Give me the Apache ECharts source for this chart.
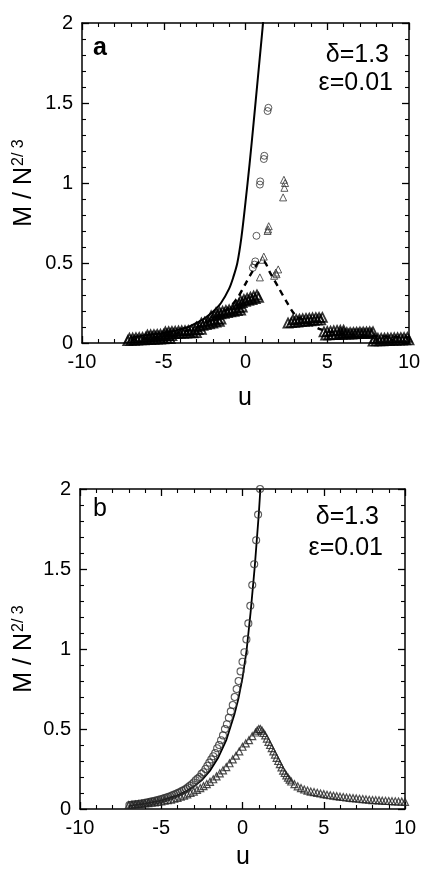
<!DOCTYPE html>
<html>
<head>
<meta charset="utf-8">
<script src="https://cdn.jsdelivr.net/npm/echarts@6/dist/echarts.min.js"></script>
<style>
  html, body { margin: 0; padding: 0; background: #fff; }
  #chart { width: 439px; height: 869px; }
</style>
</head>
<body>
<div id="chart"></div>
<script>
// ---- panel a ----
const solidA = [[-7.0,0.035],[-6.5,0.042],[-6.0,0.05],[-5.5,0.056],[-5.0,0.063],[-4.5,0.072],[-4.0,0.085],
  [-3.5,0.10],[-3.0,0.125],[-2.5,0.155],[-2.0,0.195],[-1.5,0.25],[-1.0,0.34],[-0.75,0.41],[-0.5,0.50],
  [-0.25,0.66],[0.0,0.88],[0.25,1.12],[0.5,1.38],[0.75,1.65],[1.0,1.92],[1.1,2.03]];
const dashedA = [[-7.0,0.02],[-6.0,0.03],[-5.0,0.045],[-4.0,0.065],[-3.0,0.095],[-2.5,0.12],[-2.0,0.15],
  [-1.5,0.185],[-1.0,0.22],[-0.5,0.28],[0.0,0.37],[0.5,0.46],[0.9,0.51],[1.1,0.51],[1.5,0.44],[2.0,0.35],
  [2.5,0.26],[3.0,0.18],[3.5,0.145],[4.0,0.115],[4.6,0.085],[5.5,0.063],[6.5,0.053],[8.0,0.043],[10.0,0.035]];
const circlesA = [[1.35,1.45],[1.4,1.47],[1.12,1.15],[1.15,1.17],[0.88,0.99],[0.9,1.01],[0.67,0.67],
  [0.6,0.51],[0.45,0.47],[0.55,0.49]];
const trianglesA = [[2.35,1.02],[2.42,1.0],[2.38,0.97],[2.3,0.91],[1.35,0.70],[1.42,0.73],[1.38,0.71],
  [1.12,0.54],[1.05,0.52],[0.88,0.41],[1.75,0.42],[1.85,0.44],[2.0,0.46],[1.9,0.43]];
// dense plateaus of triangles (finite-size steps)
const stepsA = [
  [-7.2,0.015],[-7.0,0.016],[-6.8,0.017],[-6.6,0.018],[-6.4,0.019],[-6.2,0.02],[-6.0,0.021],[-5.8,0.022],
  [-5.6,0.023],[-5.4,0.024],[-5.2,0.025],[-5.0,0.026],[-4.8,0.027],[-4.6,0.028],
  [-7.1,0.03],[-6.9,0.031],[-6.7,0.032],[-6.5,0.034],[-6.3,0.035],[-6.1,0.036],[-5.9,0.038],[-5.7,0.039],
  [-5.5,0.04],[-5.3,0.042],[-5.1,0.043],[-4.9,0.044],[-4.7,0.045],[-4.5,0.046],
  [-6.0,0.05],[-5.8,0.051],[-5.6,0.052],[-5.4,0.053],[-5.2,0.054],[-5.0,0.055],[-4.8,0.056],[-4.6,0.057],
  [-4.4,0.058],[-4.2,0.059],[-4.0,0.06],[-3.8,0.061],[-3.6,0.062],[-3.4,0.063],[-3.2,0.064],[-3.0,0.065],
  [-4.9,0.07],[-4.7,0.071],[-4.5,0.072],[-4.3,0.073],[-4.1,0.075],[-3.9,0.076],[-3.7,0.077],[-3.5,0.078],
  [-3.3,0.08],[-3.1,0.081],[-2.9,0.083],[-2.7,0.085],
  [-3.0,0.10],[-2.8,0.105],[-2.6,0.11],[-2.4,0.115],[-2.2,0.12],[-2.0,0.125],[-1.8,0.13],[-1.6,0.135],
  [-2.7,0.125],[-2.5,0.13],[-2.3,0.135],[-2.1,0.14],[-1.9,0.145],[-1.7,0.148],[-1.5,0.15],
  [-2.1,0.17],[-1.9,0.174],[-1.7,0.178],[-1.5,0.182],[-1.3,0.186],[-1.1,0.19],[-0.9,0.194],[-0.7,0.198],
  [-0.5,0.202],[-0.3,0.205],
  [-1.8,0.19],[-1.6,0.194],[-1.4,0.198],[-1.2,0.203],[-1.0,0.207],[-0.8,0.211],[-0.6,0.216],[-0.4,0.22],[-0.2,0.225],
  [-0.6,0.24],[-0.4,0.247],[-0.2,0.253],[0.0,0.26],[0.2,0.266],[0.4,0.272],[0.6,0.278],[0.8,0.285],
  [-0.3,0.265],[-0.1,0.272],[0.1,0.279],[0.3,0.286],[0.5,0.293],[0.7,0.30],
  [2.6,0.125],[2.8,0.127],[3.0,0.129],[3.2,0.131],[3.4,0.133],[3.6,0.135],[3.8,0.137],[4.0,0.139],
  [4.2,0.141],[4.4,0.143],[4.6,0.145],
  [2.9,0.145],[3.1,0.147],[3.3,0.149],[3.5,0.151],[3.7,0.153],[3.9,0.155],[4.1,0.157],[4.3,0.158],[4.5,0.159],[4.7,0.16],
  [4.8,0.07],[5.0,0.072],[5.2,0.074],[5.4,0.076],[5.6,0.078],[5.8,0.079],[6.0,0.08],
  [4.9,0.05],[5.1,0.051],[5.3,0.052],[5.5,0.052],[5.7,0.053],[5.9,0.054],[6.1,0.055],[6.3,0.055],[6.5,0.056],
  [6.7,0.057],[6.9,0.058],[7.1,0.058],[7.3,0.059],[7.5,0.06],[7.7,0.06],
  [5.8,0.063],[6.0,0.064],[6.2,0.065],[6.4,0.065],[6.6,0.066],[6.8,0.067],[7.0,0.068],[7.2,0.068],[7.4,0.069],
  [7.6,0.07],[7.8,0.07],
  [7.8,0.012],[8.0,0.013],[8.2,0.013],[8.4,0.014],[8.6,0.015],[8.8,0.015],[9.0,0.016],[9.2,0.017],[9.4,0.018],
  [9.6,0.018],[9.8,0.019],[10.0,0.02],
  [7.9,0.028],[8.1,0.029],[8.3,0.029],[8.5,0.03],[8.7,0.031],[8.9,0.031],[9.1,0.032],[9.3,0.033],[9.5,0.033],
  [9.7,0.034],[9.9,0.035]
];

// ---- panel b ----
const solidB = [[-7.0,0.02],[-6.0,0.033],[-5.0,0.052],[-4.0,0.085],[-3.5,0.11],[-3.0,0.14],[-2.5,0.18],
  [-2.0,0.24],[-1.5,0.32],[-1.0,0.43],[-0.5,0.59],[-0.25,0.69],[0.0,0.82],[0.25,0.99],[0.5,1.23],
  [0.75,1.51],[1.0,1.84],[1.1,2.0]];
const circlesB = [[1.08,2.0],[0.96,1.84],[0.84,1.68],[0.72,1.53],[0.60,1.40],[0.48,1.27],[0.36,1.16],
  [0.24,1.06],[0.12,0.98],[0.0,0.92],[-0.12,0.86],[-0.24,0.80],[-0.36,0.75],[-0.48,0.70],[-0.60,0.65],
  [-0.72,0.61],[-0.84,0.57],[-0.96,0.53],[-1.08,0.50],[-1.20,0.46],[-1.32,0.43],[-1.44,0.40],[-1.56,0.38],
  [-1.68,0.35],[-1.80,0.33],[-1.92,0.31],[-2.04,0.29],[-2.16,0.27],[-2.28,0.25],[-2.40,0.23],[-2.52,0.22],
  [-2.64,0.20],[-2.76,0.19],[-2.88,0.18],[-3.00,0.166],[-3.12,0.155],[-3.24,0.145],[-3.36,0.135],
  [-3.48,0.126],[-3.60,0.119],[-3.72,0.113],[-3.84,0.106],[-3.96,0.101],[-4.08,0.095],[-4.20,0.090],
  [-4.32,0.085],[-4.44,0.080],[-4.56,0.076],[-4.68,0.072],[-4.80,0.068],[-4.92,0.064],[-5.04,0.061],
  [-5.16,0.057],[-5.28,0.054],[-5.40,0.051],[-5.52,0.048],[-5.64,0.046],[-5.76,0.043],[-5.88,0.041],
  [-6.00,0.039],[-6.12,0.036],[-6.24,0.034],[-6.36,0.033],[-6.48,0.031],[-6.60,0.029],[-6.72,0.028],
  [-6.84,0.026],[-6.96,0.025]];
const trianglesB = [[-7.0,0.025],[-6.8,0.027],[-6.6,0.028],[-6.4,0.030],[-6.2,0.032],[-6.0,0.035],
  [-5.8,0.037],[-5.6,0.040],[-5.4,0.042],[-5.2,0.045],[-5.0,0.048],[-4.8,0.052],[-4.6,0.055],[-4.4,0.059],
  [-4.2,0.064],[-4.0,0.070],[-3.8,0.077],[-3.6,0.084],[-3.4,0.092],[-3.2,0.100],[-3.0,0.109],[-2.8,0.119],
  [-2.6,0.131],[-2.4,0.143],[-2.2,0.156],[-2.0,0.170],[-1.8,0.186],[-1.6,0.204],[-1.4,0.223],[-1.2,0.242],
  [-1.0,0.262],[-0.8,0.286],[-0.6,0.31],[-0.4,0.333],[-0.2,0.36],[0.0,0.389],[0.2,0.41],[0.4,0.43],
  [0.6,0.455],[0.8,0.478],[0.9,0.49],[1.0,0.50],[1.1,0.50],[1.2,0.49],[1.3,0.475],[1.4,0.46],[1.5,0.44],
  [1.6,0.42],[1.7,0.40],[1.8,0.38],[1.9,0.36],[2.0,0.34],[2.1,0.32],[2.2,0.30],[2.3,0.28],[2.4,0.26],
  [2.5,0.24],[2.6,0.225],[2.7,0.21],[2.8,0.196],[2.9,0.183],[3.0,0.172],[3.2,0.155],[3.4,0.142],
  [3.6,0.131],[3.8,0.122],[4.0,0.115],[4.2,0.109],[4.4,0.106],[4.6,0.101],[4.8,0.097],[5.0,0.093],
  [5.2,0.089],[5.4,0.086],[5.6,0.083],[5.8,0.080],[6.0,0.077],[6.2,0.075],[6.4,0.072],[6.6,0.070],
  [6.8,0.068],[7.0,0.066],[7.2,0.064],[7.4,0.062],[7.6,0.060],[7.8,0.058],[8.0,0.056],[8.2,0.055],
  [8.4,0.054],[8.6,0.052],[8.8,0.051],[9.0,0.050],[9.2,0.049],[9.4,0.048],[9.6,0.047],[9.8,0.046],[10.0,0.045]];

const xRange = [-10, 10];
const yRange = [0, 2];

const FONT = '"Liberation Sans", Arial, sans-serif';
const chart = echarts.init(document.getElementById('chart'));

function makeX(grid, top) {
  return {
    gridIndex: grid, type: 'value', position: top ? 'top' : 'bottom',
    min: xRange[0], max: xRange[1], interval: 5,
    axisLine: { show: true, onZero: false, lineStyle: { color: '#000', width: 1.5 } },
    axisTick: { show: true, inside: true, length: 7, lineStyle: { color: '#000', width: 1.3 } },
    minorTick: { show: true, splitNumber: 5, length: 4, lineStyle: { color: '#000', width: 1.1 } },
    axisLabel: { show: !top, color: '#000', fontSize: 20, fontFamily: FONT, margin: 9 },
    splitLine: { show: false }
  };
}
function makeY(grid, right) {
  return {
    gridIndex: grid, type: 'value', position: right ? 'right' : 'left',
    min: yRange[0], max: yRange[1], interval: 0.5,
    axisLine: { show: true, onZero: false, lineStyle: { color: '#000', width: 1.5 } },
    axisTick: { show: true, inside: true, length: 7, lineStyle: { color: '#000', width: 1.3 } },
    minorTick: { show: true, splitNumber: 5, length: 4, lineStyle: { color: '#000', width: 1.1 } },
    axisLabel: { show: !right, color: '#000', fontSize: 20, fontFamily: FONT, margin: 9 },
    splitLine: { show: false }
  };
}

const hollow = (c, w) => ({ color: 'rgba(0,0,0,0)', borderColor: c, borderWidth: w || 1 });

function txt(x, y, text, size, align, weight) {
  return {
    type: 'text', x: x, y: y, silent: true,
    style: {
      text: text, fill: '#000', font: (weight || '') + ' ' + size + 'px ' + FONT,
      align: align || 'center', verticalAlign: 'middle',
      textAlign: align || 'center', textVerticalAlign: 'middle'
    }
  };
}
const ylab = (x, y) => ({
  type: 'text', x: x, y: y, rotation: Math.PI / 2, silent: true,
  style: {
    text: '{m|M / N}{s|2/ 3}', align: 'center', verticalAlign: 'middle',
    textAlign: 'center', textVerticalAlign: 'middle',
    rich: {
      m: { fontSize: 25, fontFamily: FONT, fill: '#000', color: '#000' },
      s: { fontSize: 16, fontFamily: FONT, fill: '#000', color: '#000', verticalAlign: 'top', padding: [0, 0, 10, 1] }
    }
  }
});

chart.setOption({
  animation: false,
  grid: [
    { left: 82, top: 23, width: 327, height: 320 },
    { left: 80, top: 489, width: 325, height: 320 }
  ],
  xAxis: [makeX(0, false), makeX(0, true), makeX(1, false), makeX(1, true)],
  yAxis: [makeY(0, false), makeY(0, true), makeY(1, false), makeY(1, true)],
  series: [
    { type: 'line', xAxisIndex: 0, yAxisIndex: 0, data: solidA, smooth: 0.3, symbol: 'none', clip: true,
      lineStyle: { color: '#000', width: 2 } },
    { type: 'line', xAxisIndex: 0, yAxisIndex: 0, data: dashedA, smooth: 0.3, symbol: 'none', clip: true,
      lineStyle: { color: '#000', width: 2.4, type: [6, 5] } },
    { type: 'scatter', xAxisIndex: 0, yAxisIndex: 0, data: stepsA, symbol: 'triangle', symbolSize: 9,
      itemStyle: hollow('#000', 1.8) },
    { type: 'scatter', xAxisIndex: 0, yAxisIndex: 0, data: trianglesA, symbol: 'triangle', symbolSize: 7,
      itemStyle: hollow('#333') },
    { type: 'scatter', xAxisIndex: 0, yAxisIndex: 0, data: circlesA, symbol: 'circle', symbolSize: 7,
      itemStyle: hollow('#333') },
    { type: 'lines', coordinateSystem: 'cartesian2d', xAxisIndex: 2, yAxisIndex: 2, polyline: true,
      data: [{ coords: solidB }], lineStyle: { color: '#000', width: 1.8, opacity: 1 } },
    { type: 'scatter', xAxisIndex: 2, yAxisIndex: 2, data: circlesB, symbol: 'circle', symbolSize: 7,
      itemStyle: hollow('#333', 1.1) },
    { type: 'scatter', xAxisIndex: 2, yAxisIndex: 2, data: trianglesB, symbol: 'triangle', symbolSize: 7,
      itemStyle: hollow('#222', 1.2) }
  ],
  graphic: [
    txt(100, 48, 'a', 25, 'center', 'bold'),
    txt(389, 55, 'δ=1.3', 25, 'right'),
    txt(393, 83, 'ε=0.01', 25, 'right'),
    txt(245, 398, 'u', 25),
    ylab(24, 183),
    txt(100, 509, 'b', 25),
    txt(379, 517, 'δ=1.3', 25, 'right'),
    txt(383, 548, 'ε=0.01', 25, 'right'),
    txt(243, 857, 'u', 25),
    ylab(24, 649)
  ]
});
</script>
</body>
</html>
